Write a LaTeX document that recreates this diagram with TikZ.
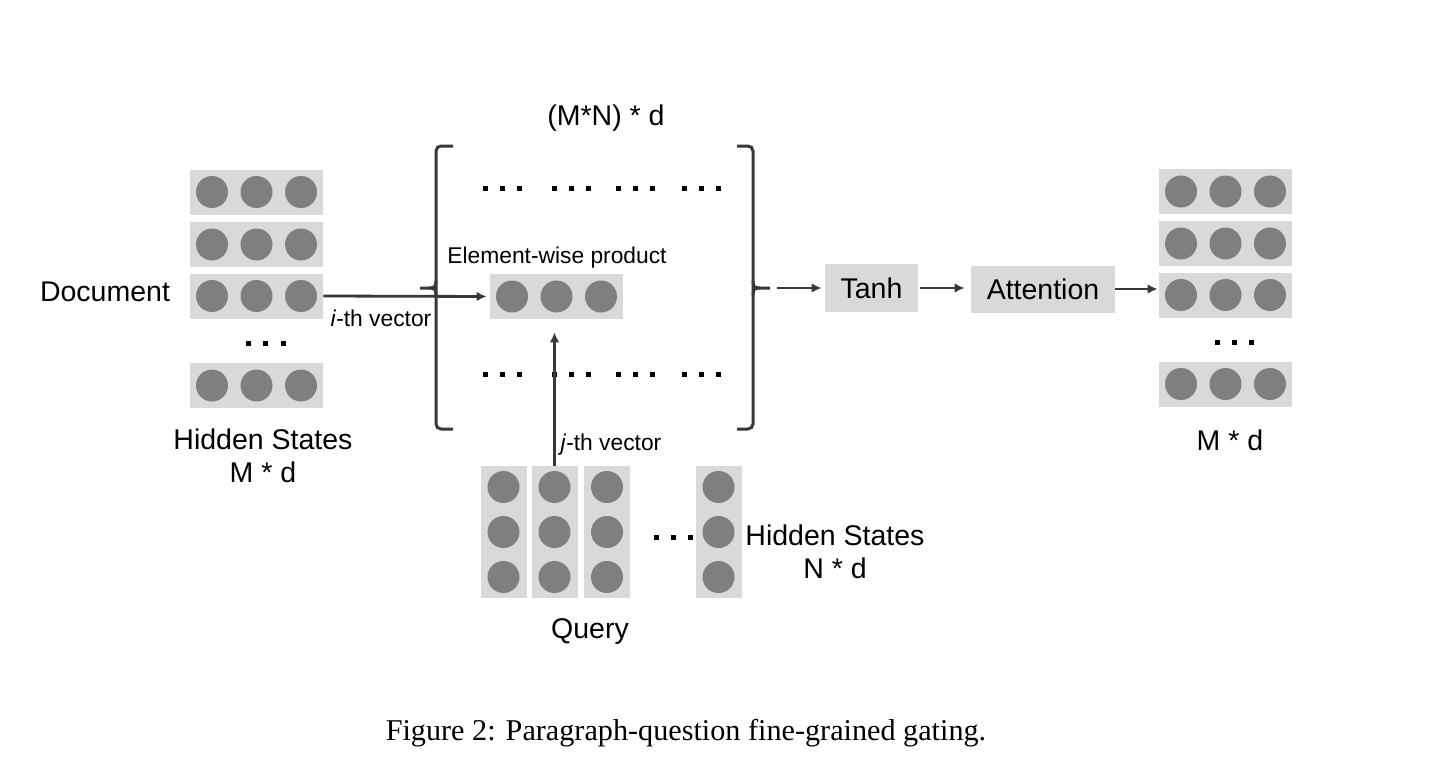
\documentclass[tikz,border=0pt]{standalone}
\usepackage{fontspec}
\setmainfont{Liberation Sans}
\newfontfamily\capfont{Liberation Serif}
\usetikzlibrary{arrows.meta}
\definecolor{boxgray}{HTML}{D9D9D9}
\definecolor{dotgray}{HTML}{7F7F7F}
\definecolor{linegray}{HTML}{383838}
\begin{document}
\begin{tikzpicture}[x=0.5pt,y=-0.5pt,
  vecbox/.style={rectangle, fill=boxgray, draw=none, inner sep=0pt},
  hbox/.style={vecbox, minimum width=66.5pt, minimum height=22.5pt},
  vbox/.style={vecbox, minimum width=23pt, minimum height=66pt},
  unit/.style={circle, fill=dotgray, draw=none, inner sep=0pt, minimum size=16pt},
  lbl/.style={font=\fontsize{14.25pt}{16.5pt}\selectfont, inner sep=0pt, align=center},
  small/.style={font=\fontsize{11.4pt}{13pt}\selectfont, inner sep=0pt},
  conn/.style={draw=linegray, line width=1.4pt, -{Latex[length=5pt,width=4.8pt]}},
  brk/.style={draw=linegray, line width=1.5pt, rounded corners=2.5pt},
  tick/.style={draw=linegray, line width=1.5pt},
]
\fill[white] (0,0) rectangle (1432,782);
\useasboundingbox (0,0) rectangle (1432,782);

% ---------- document stack ----------
\foreach \n/\y in {1/192,2/244.5,3/296,4/385.5}{
  \node[hbox] (d\n) at (256.5,\y) {};
  \foreach \k/\dx in {a/-44.5,b/0,c/44.5}
    \node[unit] (d\n\k) at (256.5+\dx,\y) {};
}
\foreach \x in {248,265.5,283}
  \fill[black] (\x-2.5,340.5) rectangle (\x+2.5,345.5);
\node[lbl] (doc) at (105,292) {Document};
\node[lbl] (dhs) at (263,456) {Hidden States\\M * d};

% ---------- output stack ----------
\foreach \n/\y in {1/191.5,2/243.5,3/295,4/384}{
  \node[hbox] (r\n) at (1225.5,\y) {};
  \foreach \k/\dx in {a/-44.5,b/0,c/44.5}
    \node[unit] (r\n\k) at (1225.5+\dx,\y) {};
}
\foreach \x in {1217,1234,1251}
  \fill[black] (\x-2.5,339.5) rectangle (\x+2.5,344.5);
\node[lbl] (rmd) at (1230,440) {M * d};

% ---------- bracket matrix ----------
\node[lbl] (mn) at (606,118) {(M*N) * d};
\draw[brk] (453,146) -- (436,146) -- (436,429) -- (453,429);
\draw[tick] (436,281) .. controls (436,287) and (434,288) .. (429,288) -- (420,288);
\draw[tick] (436,295) .. controls (436,289) and (434,288) .. (429,288);
\draw[brk] (737,146) -- (753,146) -- (753,429) -- (737,429);
\draw[tick] (753,281) .. controls (753,287) and (755,288) .. (760,288) -- (770,288);
\draw[tick] (753,295) .. controls (753,289) and (755,288) .. (760,288);
\coordinate (rb) at (770,288);
\foreach \c in {502.5,571.5,635,701}{
  \foreach \d in {-17,0,17}{
    \fill[black] (\c+\d-2.5,185.5) rectangle (\c+\d+2.5,190.5);
    \fill[black] (\c+\d-2.5,371.5) rectangle (\c+\d+2.5,376.5);
  }
}
\node[small] (ewl) at (557,258) {Element-wise product};
\node[hbox] (elem) at (556.5,296.5) {};
\foreach \k/\dx in {a/-44.5,b/0,c/44.5}
  \node[unit] (e\k) at (556.5+\dx,296.5) {};

% ---------- query ----------
\foreach \n/\x in {1/503.5,2/554.5,3/607,4/718.5}{
  \node[vbox] (q\n) at (\x,532) {};
  \foreach \k/\dy in {a/-45,b/0,c/45}
    \node[unit] (q\n\k) at (\x,532+\dy) {};
}
\foreach \x in {656,673,690}
  \fill[black] (\x-2.5,534.5) rectangle (\x+2.5,539.5);
\node[lbl] (qhs) at (835,551.5) {Hidden States\\N * d};
\node[lbl] (query) at (590,632) {Query};

% ---------- processing ----------
\node[vecbox, lbl, minimum width=46.5pt, minimum height=24pt] (tanh) at (871.5,288) {Tanh};
\node[vecbox, lbl, minimum width=72pt, minimum height=23.5pt] (att) at (1043,289) {Attention};

% ---------- connectors ----------
\draw[conn, shorten >=1.5pt] (d3.east) -- (elem.west);
\node[small] (ith) at (381,318) {\textit{i}-th vector};
\draw[conn, shorten >=6.5pt] (q2.north) -- (q2.north |- elem.south);
\node[small] (jth) at (611,445) {\textit{j}-th vector};
\draw[conn, shorten <=3.5pt, shorten >=1.5pt] (rb) -- (tanh.west);
\draw[conn, shorten <=1pt, shorten >=3pt] (tanh.east) -- (att.west |- tanh.east);
\draw[conn, shorten >=0.5pt] (att.east) -- (att.east -| r3.west);

% ---------- caption ----------
\node[inner sep=0pt, font=\capfont\fontsize{15.1pt}{17pt}\selectfont] (cap) at (686,733) {Figure 2: Paragraph-question fine-grained gating.};
\end{tikzpicture}
\end{document}
